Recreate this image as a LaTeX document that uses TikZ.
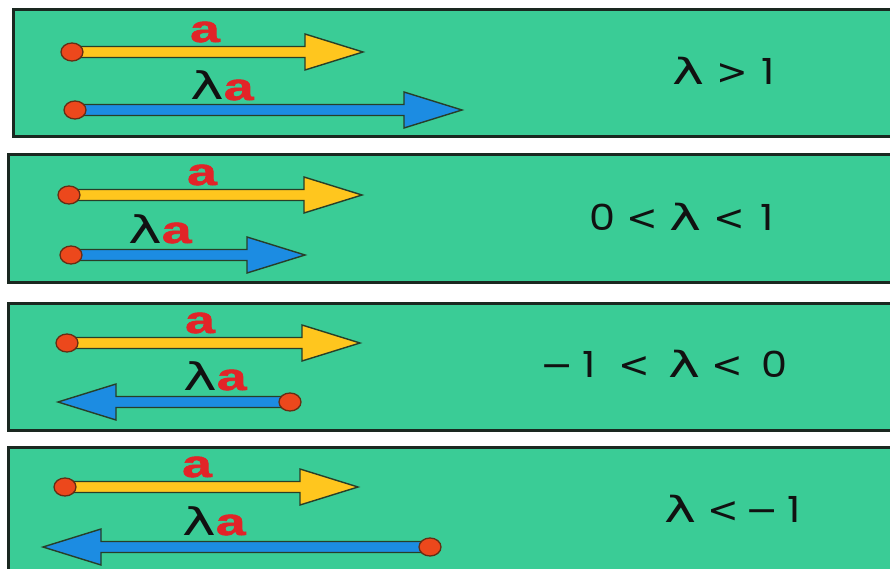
\documentclass[tikz,border=0pt]{standalone}
\usepackage{fontspec}
\setmainfont{Poppins}
\newfontfamily\symfont{DejaVu Sans}
\newfontfamily\vecfont{Liberation Sans}[BoldFeatures={FakeBold=1.5}]
\usetikzlibrary{calc,shapes.geometric}

\definecolor{panelfill}{RGB}{58,204,150}
\definecolor{panelline}{RGB}{26,40,32}
\definecolor{vecyellow}{RGB}{255,198,30}
\definecolor{vecblue}{RGB}{28,140,226}
\definecolor{dotred}{RGB}{236,72,28}
\definecolor{dotline}{RGB}{100,45,20}
\definecolor{outline}{RGB}{40,62,40}
\definecolor{labred}{RGB}{226,36,40}
\definecolor{ink}{RGB}{17,17,17}

\pgfdeclarelayer{panels}
\pgfdeclarelayer{shafts}
\pgfsetlayers{panels,shafts,main}

% a glyph centred in a cell of fixed width (1pt = 1 unit)
\newcommand{\gcell}[2]{\makebox[#1pt][c]{#2}}
\newcommand{\lam}{{\symfont\scalebox{1.5}[1]{λ}}}
\newcommand{\mns}{{\symfont\scalebox{1.1}[1]{−}}}
\newcommand{\less}{{\symfont\scalebox{1.05}[1]{<}}}
\newcommand{\more}{{\symfont\scalebox{1.05}[1]{>}}}
\newcommand{\wide}[1]{\scalebox{1.15}[1]{#1}}
\newcommand{\veca}{{\color{labred}\vecfont\bfseries\scalebox{1.4}[1]{a}}}

% filled vector arrow with a shaft and a triangular head
\newcommand{\vecarrow}[3]{%
  \begin{pgfonlayer}{shafts}
    \draw[arrowline, fill=#3]
      let \p1=(#1), \p2=(#2), \n1={(\x2>\x1)?58:-58} in
      (\x1,\y1-5.5pt) -- (\x2-\n1*1pt,\y1-5.5pt) -- (\x2-\n1*1pt,\y1-18pt)
      -- (\x2,\y1) -- (\x2-\n1*1pt,\y1+18pt) -- (\x2-\n1*1pt,\y1+5.5pt)
      -- (\x1,\y1+5.5pt) -- cycle;
  \end{pgfonlayer}}

\tikzset{
  panel/.style={draw=panelline, line width=3pt, fill=panelfill},
  arrowline/.style={draw=outline, line width=1.4pt, line join=miter},
  dot/.style={ellipse, minimum width=22pt, minimum height=18pt, inner sep=0pt,
    fill=dotred, draw=dotline, line width=1.3pt},
  veclabel/.style={inner sep=0pt, anchor=base, text=ink,
    font=\fontsize{38}{38}\selectfont},
  rel/.style={inner sep=0pt, anchor=base west, text=ink,
    font=\fontsize{36}{36}\selectfont}
}

\begin{document}
\begin{tikzpicture}[x=1pt, y=-1pt]
  \useasboundingbox (0,0) rectangle (890,569);

  % the four panels on a white ground
  \begin{pgfonlayer}{panels}
    \fill[white] (0,0) rectangle (890,569);
    \path[panel] (13,10)  rectangle (893,137);
    \path[panel] (8,155)  rectangle (893,282);
    \path[panel] (8,303)  rectangle (893,430);
    \path[panel] (8,447)  rectangle (893,580);
  \end{pgfonlayer}

  % ---- panel 1 : lambda > 1
  \node[dot] (s1) at (72,52) {};
  \coordinate (t1) at (363,52);
  \node[dot] (s2) at (75,110) {};
  \coordinate (t2) at (462,110);
  \vecarrow{s1.center}{t1}{vecyellow}
  \vecarrow{s2.center}{t2}{vecblue}
  \node[veclabel] (a1) at (205,42) {\veca};
  \node[veclabel, anchor=base west] (la1) at (190,100) {\lam\veca};
  \node[rel] (r1) at (666,85) {\gcell{45}{\lam}\gcell{43}{\more}\gcell{27}{\wide{1}}};

  % ---- panel 2 : 0 < lambda < 1
  \node[dot] (s3) at (69,195) {};
  \coordinate (t3) at (362,195);
  \node[dot] (s4) at (71,255) {};
  \coordinate (t4) at (305,255);
  \vecarrow{s3.center}{t3}{vecyellow}
  \vecarrow{s4.center}{t4}{vecblue}
  \node[veclabel] (a2) at (202,185) {\veca};
  \node[veclabel, anchor=base west] (la2) at (128,243) {\lam\veca};
  \node[rel] (r2) at (587,230) {\gcell{30}{\wide{0}}\gcell{51}{\less}\gcell{35}{\lam}\gcell{52}{\less}\gcell{23}{\wide{1}}};

  % ---- panel 3 : -1 < lambda < 0
  \node[dot] (s5) at (67,343) {};
  \coordinate (t5) at (360,343);
  \node[dot] (s6) at (290,402) {};
  \coordinate (t6) at (58,402);
  \vecarrow{s5.center}{t5}{vecyellow}
  \vecarrow{s6.center}{t6}{vecblue}
  \node[veclabel] (a3) at (200,333) {\veca};
  \node[veclabel, anchor=base west] (la3) at (183,390) {\lam\veca};
  \node[rel] (r3) at (542,377) {\gcell{30}{\mns}\gcell{33}{\wide{1}}\gcell{58}{\less}\gcell{43}{\lam}\gcell{43}{\less}\gcell{50}{\wide{0}}};

  % ---- panel 4 : lambda < -1
  \node[dot] (s7) at (65,487) {};
  \coordinate (t7) at (358,487);
  \node[dot] (s8) at (430,547) {};
  \coordinate (t8) at (43,547);
  \vecarrow{s7.center}{t7}{vecyellow}
  \vecarrow{s8.center}{t8}{vecblue}
  \node[veclabel] (a4) at (197,477) {\veca};
  \node[veclabel, anchor=base west] (la4) at (182,535) {\lam\veca};
  \node[rel] (r4) at (662,522) {\gcell{36}{\lam}\gcell{51}{\less}\gcell{26}{\mns}\gcell{38}{\wide{1}}};
\end{tikzpicture}
\end{document}
